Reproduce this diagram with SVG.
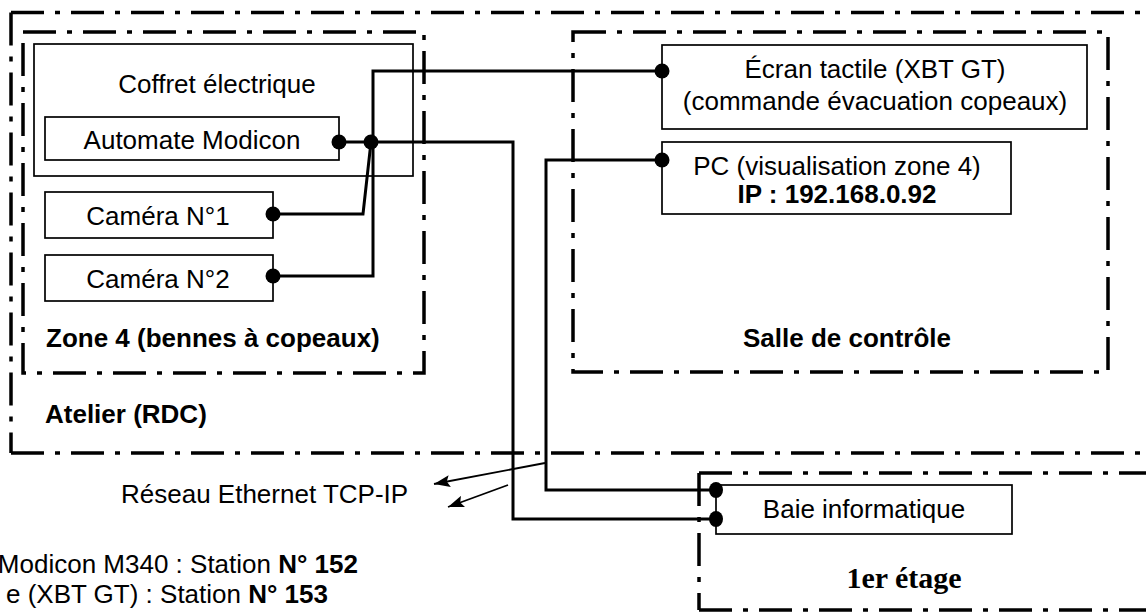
<svg xmlns="http://www.w3.org/2000/svg" width="1146" height="612" viewBox="0 0 1146 612">
<style>
.zone{fill:none;stroke:#000;stroke-width:3.5;stroke-dasharray:33 11 5 11}
.box{fill:#fff;stroke:#000;stroke-width:1.7}
.t{font-family:"Liberation Sans",Arial,Helvetica,sans-serif;font-size:26px;fill:#000}
.b{font-weight:bold}
.m{text-anchor:middle}
.serif{font-family:"Liberation Serif","Times New Roman",serif;font-size:30px;font-weight:bold;fill:#000}
.wire{fill:none;stroke:#000;stroke-width:3}
.thin{fill:none;stroke:#000;stroke-width:1.8}
.dot{fill:#000}
</style>
<defs>
<marker id="arr" viewBox="0 0 16 12" refX="16" refY="6" markerWidth="16" markerHeight="12" markerUnits="userSpaceOnUse" orient="auto">
<path d="M0,0 L16,6 L0,12 L3,6 z" fill="#000"/>
</marker>
</defs>
<rect width="1146" height="612" fill="#fff"/>

<g id="atelier">
<path class="zone" d="M11,12.5 H1160"/>
<path class="zone" d="M11,12.5 V453"/>
<path class="zone" d="M11,453 H1160"/>
<text class="t b" x="45" y="423">Atelier (RDC)</text>
</g>

<g id="zone4">
<rect class="zone" x="23" y="32" width="401" height="341"/>
<text class="t b" x="46" y="347">Zone 4 (bennes à copeaux)</text>
</g>

<g id="salle">
<rect class="zone" x="573" y="32" width="535" height="340"/>
<text class="t b m" x="847" y="347">Salle de contrôle</text>
</g>

<g id="etage">
<path class="zone" d="M699,473 H1160"/>
<path class="zone" d="M699,473 V610"/>
<path class="zone" d="M699,610 H1160"/>
<text class="serif" x="904" y="588" text-anchor="middle">1er étage</text>
</g>

<g id="coffret">
<rect class="box" x="34" y="44" width="379" height="132"/>
<text class="t m" x="217" y="93">Coffret électrique</text>
</g>

<g id="automate">
<rect class="box" x="45" y="117" width="294" height="43"/>
<text class="t m" x="192" y="149">Automate Modicon</text>
</g>

<g id="camera1">
<rect class="box" x="45" y="192" width="228" height="46"/>
<text class="t m" x="158" y="225">Caméra N°1</text>
</g>

<g id="camera2">
<rect class="box" x="45" y="255" width="228" height="46"/>
<text class="t m" x="158" y="288">Caméra N°2</text>
</g>

<g id="ecran">
<rect class="box" x="662" y="45" width="425" height="84"/>
<text class="t m" x="875" y="78">Écran tactile (XBT GT)</text>
<text class="t m" x="875" y="110">(commande évacuation copeaux)</text>
</g>

<g id="pc">
<rect class="box" x="662" y="142" width="349" height="72"/>
<text class="t m" x="837" y="175">PC (visualisation zone 4)</text>
<text class="t b m" x="837" y="203">IP : 192.168.0.92</text>
</g>

<g id="baie">
<rect class="box" x="716" y="485" width="296" height="49"/>
<text class="t m" x="864" y="518">Baie informatique</text>
</g>

<g id="connectors">
<path class="wire" d="M273,276 H373 V71 H662"/>
<path class="wire" d="M273,214 H363 L371,142"/>
<path class="wire" d="M339,142 H513 V519 H716"/>
<path class="wire" d="M662,160 H546 V490 H716"/>
<circle class="dot" cx="339" cy="142" r="7.5"/>
<circle class="dot" cx="371" cy="142" r="7.5"/>
<circle class="dot" cx="273" cy="214" r="7.5"/>
<circle class="dot" cx="273" cy="276" r="7.5"/>
<circle class="dot" cx="662" cy="71" r="7.5"/>
<circle class="dot" cx="662" cy="160" r="7.5"/>
<ellipse class="dot" cx="716" cy="490" rx="7" ry="8"/>
<ellipse class="dot" cx="716" cy="519" rx="7" ry="8"/>
<path class="thin" d="M545,463 L434,484" marker-end="url(#arr)"/>
<path class="thin" d="M508,485 L448,507" marker-end="url(#arr)"/>
</g>

<g id="reseau">
<text class="t" x="121" y="503">Réseau Ethernet TCP-IP</text>
</g>

<g id="notes">
<text class="t" x="358" y="573" text-anchor="end">Modicon M340 : Station <tspan class="b">N° 152</tspan></text>
<text class="t" x="328" y="603" text-anchor="end">e (XBT GT) : Station <tspan class="b">N° 153</tspan></text>
</g>
</svg>
